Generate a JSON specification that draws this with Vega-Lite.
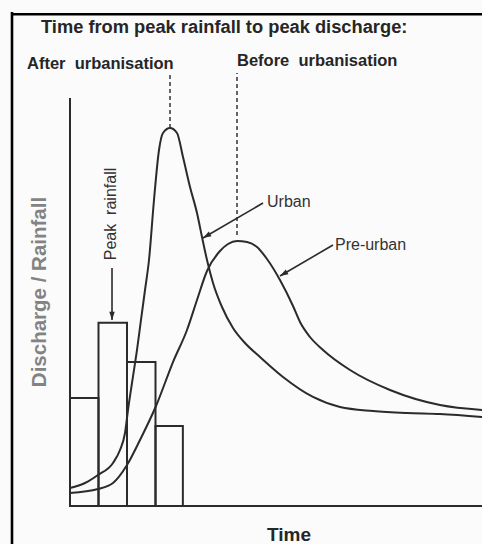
{
  "$schema": "https://vega.github.io/schema/vega-lite/v6.json",
  "width": 470,
  "height": 532,
  "autosize": {"type": "none"},
  "padding": {"left": 12, "top": 12, "right": 0, "bottom": 0},
  "background": "#fbfbfb",
  "config": {
    "view": {"stroke": null},
    "text": {"font": "Liberation Sans"}
  },
  "datasets": {
    "frametop": [
      {"t": -2.0351, "v": 120.2, "t2": 14.4561, "v2": 120.85}
    ],
    "frameleft": [
      {"t": -2.0351, "v": -9.3137, "t2": -2.0351, "v2": 121.0784}
    ],
    "bars": [
      {"t": 0, "t2": 1, "v": 26.5},
      {"t": 1, "t2": 2, "v": 44.9},
      {"t": 2, "t2": 3, "v": 35.3},
      {"t": 3, "t2": 3.96, "v": 19.6}
    ],
    "curves": [
      {"series": "Urban", "t": 0, "v": 4.41},
      {"series": "Urban", "t": 0.526, "v": 5.64},
      {"series": "Urban", "t": 0.982, "v": 7.6},
      {"series": "Urban", "t": 1.509, "v": 10.54},
      {"series": "Urban", "t": 1.754, "v": 13.73},
      {"series": "Urban", "t": 1.93, "v": 17.89},
      {"series": "Urban", "t": 2.035, "v": 23.53},
      {"series": "Urban", "t": 2.175, "v": 30.15},
      {"series": "Urban", "t": 2.351, "v": 38.24},
      {"series": "Urban", "t": 2.491, "v": 45.59},
      {"series": "Urban", "t": 2.632, "v": 52.94},
      {"series": "Urban", "t": 2.772, "v": 60.29},
      {"series": "Urban", "t": 2.947, "v": 75.0},
      {"series": "Urban", "t": 3.123, "v": 87.25},
      {"series": "Urban", "t": 3.263, "v": 91.42},
      {"series": "Urban", "t": 3.509, "v": 92.65},
      {"series": "Urban", "t": 3.754, "v": 91.42},
      {"series": "Urban", "t": 3.965, "v": 85.54},
      {"series": "Urban", "t": 4.211, "v": 78.19},
      {"series": "Urban", "t": 4.456, "v": 71.81},
      {"series": "Urban", "t": 4.632, "v": 65.93},
      {"series": "Urban", "t": 4.807, "v": 60.29},
      {"series": "Urban", "t": 5.018, "v": 54.66},
      {"series": "Urban", "t": 5.333, "v": 48.77},
      {"series": "Urban", "t": 5.719, "v": 43.63},
      {"series": "Urban", "t": 6.14, "v": 39.95},
      {"series": "Urban", "t": 6.667, "v": 36.52},
      {"series": "Urban", "t": 7.474, "v": 31.62},
      {"series": "Urban", "t": 8.526, "v": 26.72},
      {"series": "Urban", "t": 9.474, "v": 24.26},
      {"series": "Urban", "t": 10.632, "v": 23.28},
      {"series": "Urban", "t": 11.825, "v": 22.79},
      {"series": "Urban", "t": 12.982, "v": 22.55},
      {"series": "Urban", "t": 14.46, "v": 21.81},
      {"series": "Pre-urban", "t": 0, "v": 3.19},
      {"series": "Pre-urban", "t": 0.982, "v": 4.17},
      {"series": "Pre-urban", "t": 1.509, "v": 5.64},
      {"series": "Pre-urban", "t": 2.0, "v": 10.05},
      {"series": "Pre-urban", "t": 2.456, "v": 16.18},
      {"series": "Pre-urban", "t": 3.018, "v": 24.51},
      {"series": "Pre-urban", "t": 3.614, "v": 35.29},
      {"series": "Pre-urban", "t": 4.105, "v": 43.14},
      {"series": "Pre-urban", "t": 4.456, "v": 50.49},
      {"series": "Pre-urban", "t": 4.807, "v": 57.6},
      {"series": "Pre-urban", "t": 5.263, "v": 62.5},
      {"series": "Pre-urban", "t": 5.544, "v": 64.22},
      {"series": "Pre-urban", "t": 5.86, "v": 64.95},
      {"series": "Pre-urban", "t": 6.211, "v": 64.71},
      {"series": "Pre-urban", "t": 6.561, "v": 63.48},
      {"series": "Pre-urban", "t": 6.912, "v": 60.54},
      {"series": "Pre-urban", "t": 7.368, "v": 55.39},
      {"series": "Pre-urban", "t": 7.825, "v": 49.02},
      {"series": "Pre-urban", "t": 8.07, "v": 45.1},
      {"series": "Pre-urban", "t": 8.421, "v": 41.42},
      {"series": "Pre-urban", "t": 8.877, "v": 38.24},
      {"series": "Pre-urban", "t": 9.825, "v": 33.33},
      {"series": "Pre-urban", "t": 11.228, "v": 28.43},
      {"series": "Pre-urban", "t": 12.982, "v": 24.75},
      {"series": "Pre-urban", "t": 14.46, "v": 23.53}
    ],
    "axes": [
      {"t": 0, "v": 0, "t2": 14.46, "v2": 0},
      {"t": 0, "v": 0, "t2": 0, "v2": 100}
    ],
    "peaks": [
      {"t": 3.509, "v": 92.65, "v2": 106.4},
      {"t": 5.86, "v": 66.4, "v2": 106.1}
    ],
    "arrows": [
      {"name": "peak", "t": 1.474, "v": 58.33, "t2": 1.474, "v2": 45.59},
      {"name": "urban", "t": 6.772, "v": 74.26, "t2": 4.667, "v2": 65.69},
      {"name": "preurban", "t": 9.228, "v": 63.97, "t2": 7.368, "v2": 56.37}
    ],
    "labels": [
      {"kind": "title", "text": "Time from peak rainfall to peak discharge:", "t": -1.018, "v": 116.0},
      {"kind": "heading", "text": "After\u00a0 urbanisation", "t": -1.509, "v": 107.1},
      {"kind": "heading", "text": "Before\u00a0 urbanisation", "t": 5.86, "v": 107.8},
      {"kind": "curve", "text": "Urban", "t": 6.912, "v": 73.28},
      {"kind": "curve", "text": "Pre-urban", "t": 9.298, "v": 62.75},
      {"kind": "rotated", "text": "Peak\u00a0 rainfall", "t": 1.439, "v": 71.57},
      {"kind": "ytitle", "text": "Discharge / Rainfall", "t": -1.07, "v": 52.45},
      {"kind": "xtitle", "text": "Time", "t": 7.684, "v": -8.6}
    ]
  },
  "encoding": {
    "x": {"field": "t", "type": "quantitative", "scale": {"domain": [-2.0351, 14.4561], "nice": false, "zero": false}, "axis": null},
    "y": {"field": "v", "type": "quantitative", "scale": {"domain": [-9.3137, 121.0784], "nice": false, "zero": false}, "axis": null}
  },
  "layer": [
    {
      "data": {"name": "frametop"},
      "mark": {"type": "rect", "fill": "#000000", "stroke": null},
      "encoding": {"x2": {"field": "t2"}, "y2": {"field": "v2"}}
    },
    {
      "data": {"name": "frameleft"},
      "mark": {"type": "rule", "color": "#000000", "strokeWidth": 2.6},
      "encoding": {"x2": {"field": "t2"}, "y2": {"field": "v2"}}
    },
    {
      "data": {"name": "bars"},
      "mark": {"type": "rect", "fillOpacity": 0, "stroke": "#2b2b2b", "strokeWidth": 2},
      "encoding": {"x2": {"field": "t2"}, "y2": {"datum": 0}}
    },
    {
      "data": {"name": "axes"},
      "mark": {"type": "rule", "color": "#2b2b2b", "strokeWidth": 2},
      "encoding": {"x2": {"field": "t2"}, "y2": {"field": "v2"}}
    },
    {
      "data": {"name": "curves"},
      "mark": {"type": "line", "interpolate": "monotone", "color": "#2b2b2b", "strokeWidth": 2},
      "encoding": {"detail": {"field": "series"}}
    },
    {
      "data": {"name": "peaks"},
      "mark": {"type": "rule", "color": "#333333", "strokeWidth": 1.5, "strokeDash": [4, 3]},
      "encoding": {"y2": {"field": "v2"}}
    },
    {
      "data": {"name": "arrows"},
      "mark": {"type": "rule", "color": "#2b2b2b", "strokeWidth": 1.6},
      "encoding": {"x2": {"field": "t2"}, "y2": {"field": "v2"}}
    },
    {
      "data": {"name": "arrows"},
      "transform": [{"filter": "datum.name === 'peak'"}],
      "mark": {"type": "point", "shape": "M0,0L-0.5,1.5L0.5,1.5Z", "size": 120, "filled": true, "opacity": 1, "color": "#2b2b2b", "angle": 180},
      "encoding": {
        "x": {"field": "t2", "type": "quantitative", "scale": {"domain": [-2.0351, 14.4561], "nice": false, "zero": false}, "axis": null},
        "y": {"field": "v2", "type": "quantitative", "scale": {"domain": [-9.3137, 121.0784], "nice": false, "zero": false}, "axis": null}
      }
    },
    {
      "data": {"name": "arrows"},
      "transform": [{"filter": "datum.name !== 'peak'"}],
      "mark": {"type": "point", "shape": "M0,0L-0.5,1.5L0.5,1.5Z", "size": 120, "filled": true, "opacity": 1, "color": "#2b2b2b", "angle": 240},
      "encoding": {
        "x": {"field": "t2", "type": "quantitative", "scale": {"domain": [-2.0351, 14.4561], "nice": false, "zero": false}, "axis": null},
        "y": {"field": "v2", "type": "quantitative", "scale": {"domain": [-9.3137, 121.0784], "nice": false, "zero": false}, "axis": null}
      }
    },
    {
      "data": {"name": "labels"},
      "transform": [{"filter": "datum.kind === 'title'"}],
      "mark": {"type": "text", "align": "left", "baseline": "alphabetic", "fontSize": 18.3, "fontWeight": "bold", "color": "#262626"},
      "encoding": {"text": {"field": "text"}}
    },
    {
      "data": {"name": "labels"},
      "transform": [{"filter": "datum.kind === 'heading'"}],
      "mark": {"type": "text", "align": "left", "baseline": "alphabetic", "fontSize": 16.5, "fontWeight": "bold", "color": "#262626"},
      "encoding": {"text": {"field": "text"}}
    },
    {
      "data": {"name": "labels"},
      "transform": [{"filter": "datum.kind === 'curve'"}],
      "mark": {"type": "text", "align": "left", "baseline": "alphabetic", "fontSize": 16, "color": "#333333"},
      "encoding": {"text": {"field": "text"}}
    },
    {
      "data": {"name": "labels"},
      "transform": [{"filter": "datum.kind === 'rotated'"}],
      "mark": {"type": "text", "align": "center", "baseline": "middle", "angle": 270, "fontSize": 16, "color": "#333333"},
      "encoding": {"text": {"field": "text"}}
    },
    {
      "data": {"name": "labels"},
      "transform": [{"filter": "datum.kind === 'ytitle'"}],
      "mark": {"type": "text", "align": "center", "baseline": "middle", "angle": 270, "fontSize": 20.5, "fontWeight": "bold", "color": "#838383"},
      "encoding": {"text": {"field": "text"}}
    },
    {
      "data": {"name": "labels"},
      "transform": [{"filter": "datum.kind === 'xtitle'"}],
      "mark": {"type": "text", "align": "center", "baseline": "alphabetic", "fontSize": 19, "fontWeight": "bold", "color": "#262626"},
      "encoding": {"text": {"field": "text"}}
    }
  ]
}
